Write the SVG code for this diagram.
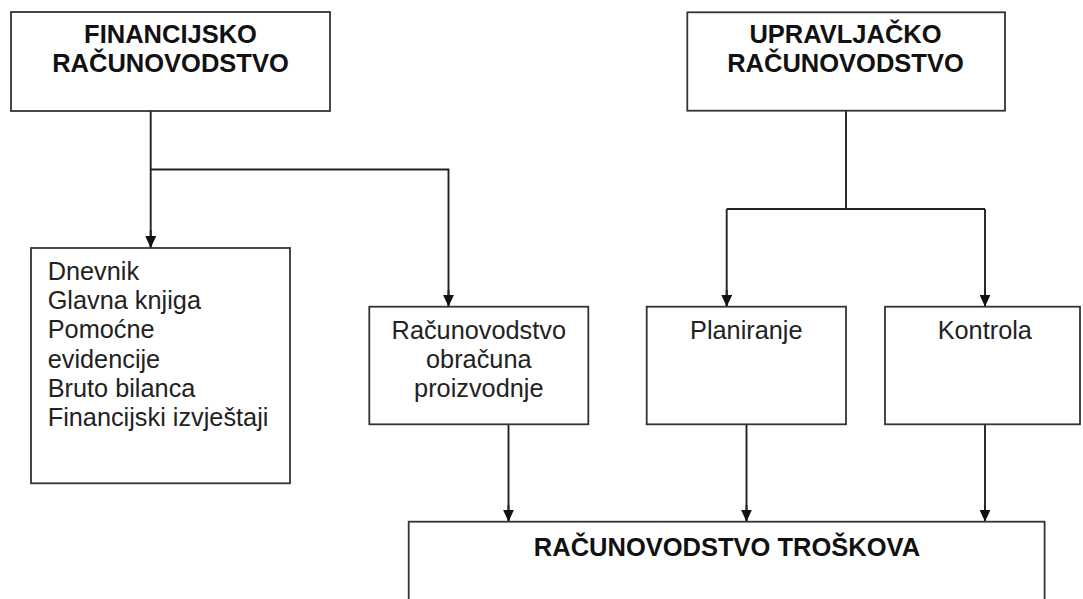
<svg xmlns="http://www.w3.org/2000/svg" width="1083" height="599" viewBox="0 0 1083 599">
<style>
.box{fill:#fff;stroke:#333;stroke-width:1.8}
.bt{font-family:"Liberation Sans",Arial,sans-serif;font-weight:bold;font-size:25.5px;fill:#111;text-anchor:middle}
.rt{font-family:"Liberation Sans",Arial,sans-serif;font-size:25.3px;fill:#222}
.c{text-anchor:middle}
.ln{fill:none;stroke:#222;stroke-width:1.9}
</style>
<defs>
<marker id="ah" viewBox="0 0 12 11" markerWidth="12" markerHeight="11" refX="12" refY="5.5" orient="auto" markerUnits="userSpaceOnUse">
<path d="M0,0 L12,5.5 L0,11 z" fill="#111"/>
</marker>
</defs>
<rect width="1083" height="599" fill="#fff"/>
<g id="connectors">
<path class="ln" d="M150.7,111 V247.5"/>
<path class="ln" d="M150.7,169.5 H448.5 V306"/>
<path class="ln" d="M846,111 V209"/>
<path class="ln" d="M726.7,209 H985"/>
<path class="ln" d="M726.7,209 V306"/>
<path class="ln" d="M985,209 V306"/>
<path class="ln" d="M508.5,424.5 V521"/>
<path class="ln" d="M746.5,424.5 V521"/>
<path class="ln" d="M985,424.5 V521"/>
</g>
<g id="connector-heads">
<path class="ln" marker-end="url(#ah)" d="M150.7,230 V248"/>
<path class="ln" marker-end="url(#ah)" d="M448.5,290 V306.7"/>
<path class="ln" marker-end="url(#ah)" d="M726.7,290 V306.7"/>
<path class="ln" marker-end="url(#ah)" d="M985,290 V306.7"/>
<path class="ln" marker-end="url(#ah)" d="M508.5,505 V521.7"/>
<path class="ln" marker-end="url(#ah)" d="M746.5,505 V521.7"/>
<path class="ln" marker-end="url(#ah)" d="M985,505 V521.7"/>
</g>
<g id="financijsko">
<rect class="box" x="11" y="12" width="319" height="99"/>
<text class="bt" x="170.5" y="43.3">FINANCIJSKO</text>
<text class="bt" x="170.5" y="72.3">RAČUNOVODSTVO</text>
</g>
<g id="upravljacko">
<rect class="box" x="687.3" y="12.3" width="317.7" height="98.4"/>
<text class="bt" x="845.5" y="43.3">UPRAVLJAČKO</text>
<text class="bt" x="845.5" y="72.3">RAČUNOVODSTVO</text>
</g>
<g id="evidencije">
<rect class="box" x="31" y="248" width="259" height="235.3"/>
<text class="rt" x="47.7" y="280">Dnevnik</text>
<text class="rt" x="47.7" y="309.2">Glavna knjiga</text>
<text class="rt" x="47.7" y="338.4">Pomoćne</text>
<text class="rt" x="47.7" y="367.6">evidencije</text>
<text class="rt" x="47.7" y="396.8">Bruto bilanca</text>
<text class="rt" x="47.7" y="426">Financijski izvještaji</text>
</g>
<g id="obracun">
<rect class="box" x="369.3" y="306.7" width="219" height="117.6"/>
<text class="rt c" x="478.8" y="339.3">Računovodstvo</text>
<text class="rt c" x="478.8" y="368.3">obračuna</text>
<text class="rt c" x="478.8" y="397">proizvodnje</text>
</g>
<g id="planiranje">
<rect class="box" x="646.7" y="306.7" width="199.3" height="117.6"/>
<text class="rt c" x="746.3" y="339.3">Planiranje</text>
</g>
<g id="kontrola">
<rect class="box" x="885" y="306.7" width="195" height="117.6"/>
<text class="rt c" x="984.8" y="339.3">Kontrola</text>
</g>
<g id="troskova">
<rect class="box" x="408.7" y="521.7" width="635.9" height="110"/>
<text class="bt" x="727" y="556">RAČUNOVODSTVO TROŠKOVA</text>
</g>
</svg>
